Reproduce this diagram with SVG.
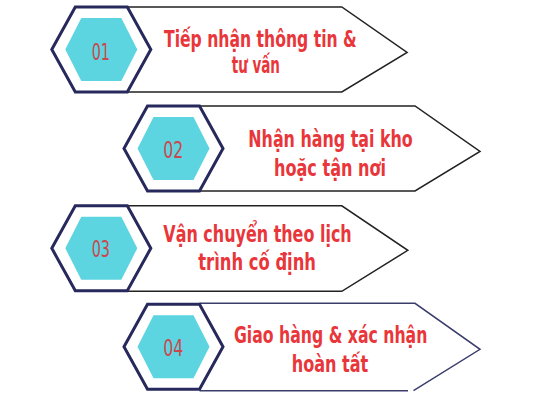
<svg xmlns="http://www.w3.org/2000/svg" width="533" height="400" viewBox="0 0 533 400">
<defs>
<style>
.arrow{fill:#ffffff;stroke:#222222;stroke-width:1.5;stroke-linejoin:miter}
.arrow4{fill:none;stroke:#3b3e6c;stroke-width:1.5}
.hexo{fill:#ffffff;stroke:#27285c;stroke-width:3;stroke-linejoin:miter}
.hexi{fill:#5dd5e0;stroke:none}
.num{font-family:"DejaVu Sans Condensed","DejaVu Sans",sans-serif;font-size:23px;fill:#c9484e;font-weight:normal}
.lbl{font-family:"DejaVu Sans Condensed","DejaVu Sans",sans-serif;font-size:23px;font-weight:bold;fill:#e8363b}
</style>
<polygon id="outer" points="-49.5,0 -26,-42.5 26,-42.5 49.5,0 26,42.5 -26,42.5"/>
<polygon id="inner" points="-36,0 -20,-31.5 20,-31.5 36,0 20,31.5 -20,31.5"/>
</defs>
<rect width="533" height="400" fill="#ffffff"/>
<g id="connectors"></g>
<g id="node1">
<path class="arrow" transform="translate(101.3,49.5)" d="M26,-42.5 H240.5 L305.8,3 L240.5,42.5 H26"/>
<use href="#outer" class="hexo" transform="translate(101.3,49.5)"/>
<use href="#inner" class="hexi" transform="translate(101.3,49.5)"/>
<text class="num" x="91.7" y="60" textLength="18.3" lengthAdjust="spacingAndGlyphs">01</text>
<text class="lbl" x="164" y="46.5" textLength="192.7" lengthAdjust="spacingAndGlyphs">Tiếp nhận thông tin &amp;</text>
<text class="lbl" x="231.7" y="73" textLength="48.3" lengthAdjust="spacingAndGlyphs">tư vấn</text>
</g>
<g id="node2">
<path class="arrow" transform="translate(173.5,148.5)" d="M26,-42.5 H241.5 L306.5,3 L241.5,42.5 H26"/>
<use href="#outer" class="hexo" transform="translate(173.5,148.5)"/>
<use href="#inner" class="hexi" transform="translate(173.5,148.5)"/>
<text class="num" x="163.3" y="158.3" textLength="20" lengthAdjust="spacingAndGlyphs">02</text>
<text class="lbl" x="248.3" y="146.7" textLength="164.4" lengthAdjust="spacingAndGlyphs">Nhận hàng tại kho</text>
<text class="lbl" x="274" y="175.5" textLength="112" lengthAdjust="spacingAndGlyphs">hoặc tận nơi</text>
</g>
<g id="node3">
<path class="arrow" transform="translate(101.3,248.3)" d="M26,-42.5 H240.5 L306.5,2 L240.5,43 H26"/>
<use href="#outer" class="hexo" transform="translate(101.3,248.3)"/>
<use href="#inner" class="hexi" transform="translate(101.3,248.3)"/>
<text class="num" x="91.7" y="256.7" textLength="18.3" lengthAdjust="spacingAndGlyphs">03</text>
<text class="lbl" x="163.3" y="241.7" textLength="188.4" lengthAdjust="spacingAndGlyphs">Vận chuyển theo lịch</text>
<text class="lbl" x="198.3" y="269.5" textLength="117.7" lengthAdjust="spacingAndGlyphs">trình cố định</text>
</g>
<g id="node4">
<path class="arrow4" transform="translate(173.5,346.7)" d="M26,-43.4 H241.5 L306.5,2.6 L240,44 M234.5,44 H26"/>
<use href="#outer" class="hexo" transform="translate(173.5,346.7)"/>
<use href="#inner" class="hexi" transform="translate(173.5,346.7)"/>
<text class="num" x="163.3" y="355.7" textLength="20" lengthAdjust="spacingAndGlyphs">04</text>
<text class="lbl" x="234" y="343.3" textLength="193.3" lengthAdjust="spacingAndGlyphs">Giao hàng &amp; xác nhận</text>
<text class="lbl" x="291.7" y="371.7" textLength="76.6" lengthAdjust="spacingAndGlyphs">hoàn tất</text>
</g>
</svg>
